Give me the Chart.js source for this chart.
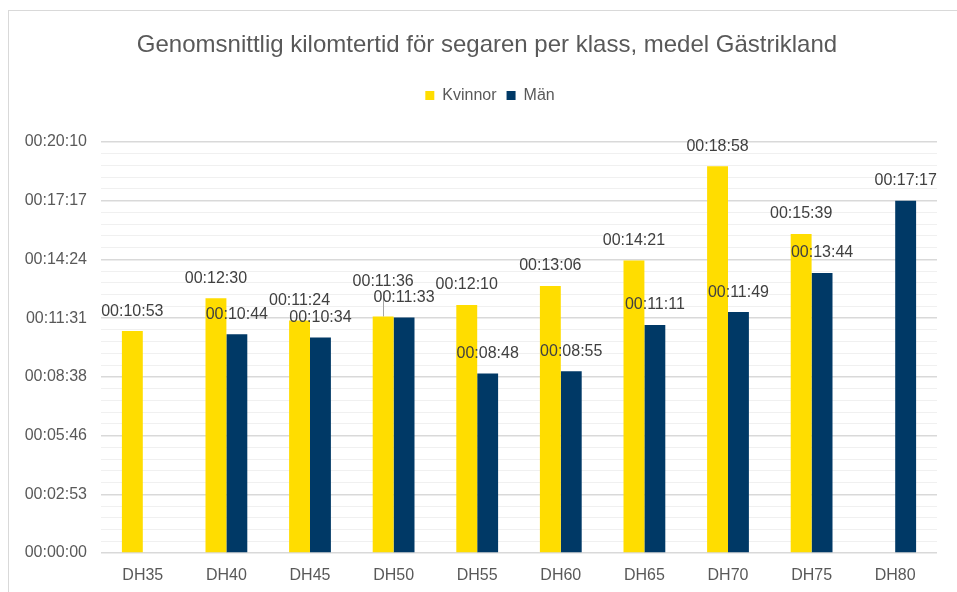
<!DOCTYPE html>
<html><head><meta charset="utf-8">
<script src="https://cdn.jsdelivr.net/npm/chart.js@4.4.1/dist/chart.umd.min.js"></script>
<style>
html,body{margin:0;padding:0;background:#fff;}
#wrap{position:relative;width:957px;height:592px;overflow:hidden;}
#frame{position:absolute;left:8px;top:10px;right:-2px;bottom:-2px;border-left:1px solid #d9d9d9;border-top:1px solid #d9d9d9;}
canvas{position:absolute;left:0;top:0;}
</style></head><body>
<div id="wrap"><div id="frame"></div><canvas id="c" width="957" height="592"></canvas></div>
<script>
const categories = ['DH35','DH40','DH45','DH50','DH55','DH60','DH65','DH70','DH75','DH80'];
const kvinnorTimes = ['00:10:53','00:12:30','00:11:24','00:11:36','00:12:10','00:13:06','00:14:21','00:18:58','00:15:39',null];
const manTimes     = [null,'00:10:44','00:10:34','00:11:33','00:08:48','00:08:55','00:11:11','00:11:49','00:13:44','00:17:17'];
// Axis: Excel-style major unit 0.002 days, minor 1/5 of that, max 0.014 days (in seconds)
const majorStep = 172.8;
const minorPerMajor = 5;
const yMax = 1209.6;

function toSec(t){ if(t==null) return null; const p=t.split(':').map(Number); return p[0]*3600+p[1]*60+p[2]; }
function fmt(s){ s=Math.round(s); const h=Math.floor(s/3600), m=Math.floor((s%3600)/60), x=s%60; const z=n=>String(n).padStart(2,'0'); return z(h)+':'+z(m)+':'+z(x); }

const kvinnor = kvinnorTimes.map(toSec);
const man = manTimes.map(toSec);

Chart.defaults.font.family = "'Liberation Sans', Arial, sans-serif";
Chart.defaults.color = '#595959';

const barLabels = {
  id:'barLabels',
  afterDatasetsDraw(chart, args, opts){
    const ctx = chart.ctx;
    ctx.save();
    ctx.font = '16px "Liberation Sans", Arial, sans-serif';
    ctx.textAlign='center'; ctx.textBaseline='middle';
    chart.data.datasets.forEach((ds, di)=>{
      const meta = chart.getDatasetMeta(di);
      meta.data.forEach((el, i)=>{
        const v = ds.data[i]; if (v==null) return;
        const lift = (opts.lift[di] && opts.lift[di][i]) || 0;
        const y = el.y - opts.offset - lift;
        if (lift){
          ctx.strokeStyle = opts.leaderColor; ctx.lineWidth = 1;
          ctx.beginPath(); ctx.moveTo(Math.round(el.x)+0.5, el.y); ctx.lineTo(Math.round(el.x)+0.5, y+10); ctx.stroke();
        }
        ctx.fillStyle = opts.color;
        ctx.fillText(fmt(v), el.x, y);
      });
    });
    ctx.restore();
  }
};

// nudge title and legend horizontally (Excel centres them on the whole chart frame)
const headerShift = {
  id:'headerShift',
  afterLayout(chart, args, opts){
    if (chart.titleBlock) chart.titleBlock.left += opts.title;
    if (chart.legend) chart.legend.left += opts.legend;
  }
};

new Chart(document.getElementById('c'), {
  type:'bar',
  data:{
    labels: categories,
    datasets:[
      {label:'Kvinnor', data:kvinnor, backgroundColor:'#FFDD00', borderWidth:0, categoryPercentage:0.5, barPercentage:1.0},
      {label:'Män', data:man, backgroundColor:'#003966', borderWidth:0, categoryPercentage:0.5, barPercentage:1.0}
    ]
  },
  plugins:[barLabels, headerShift],
  options:{
    responsive:false, animation:false,
    layout:{padding:{top:0,left:25,right:20,bottom:6.8}},
    plugins:{
      title:{display:true, text:'Genomsnittlig kilomtertid för segaren per klass, medel Gästrikland', color:'#595959',
        font:{size:24, weight:'normal'}, padding:{top:31,bottom:17.6}},
      legend:{display:true, position:'top', labels:{boxWidth:9, boxHeight:9, padding:10, color:'#595959', font:{size:16}}},
      subtitle:{display:true, text:'', weight:500, font:{size:10, lineHeight:1}, padding:{top:18.6,bottom:0}},
      tooltip:{enabled:false},
      barLabels:{offset:20, color:'#404040', leaderColor:'#a6a6a6', lift:{0:{3:15}}},
      headerShift:{title:12, legend:18}
    },
    scales:{
      x:{
        grid:{display:false, drawTicks:false},
        border:{display:false},
        ticks:{color:'#595959', font:{size:16}, padding:13},
        afterFit:(s)=>{ s.height=32.2; }
      },
      y:{
        min:0, max:yMax,
        afterBuildTicks:(s)=>{ const n=Math.round(yMax/(majorStep/minorPerMajor)); const arr=[]; for(let i=0;i<=n;i++){ arr.push({value:i*majorStep/minorPerMajor}); } s.ticks=arr; },
        afterFit:(s)=>{ s.width=76; },
        ticks:{autoSkip:false, padding:14, color:'#595959', font:{size:16},
          callback:(v,i)=> i%minorPerMajor===0 ? fmt(v) : ''},
        grid:{drawTicks:false,
          color:(c)=> c.index%minorPerMajor===0 ? '#d9d9d9' : '#f0f0f0',
          lineWidth:(c)=> c.index%minorPerMajor===0 ? 1.5 : 1},
        border:{display:false}
      }
    }
  }
});
</script>
</body></html>
